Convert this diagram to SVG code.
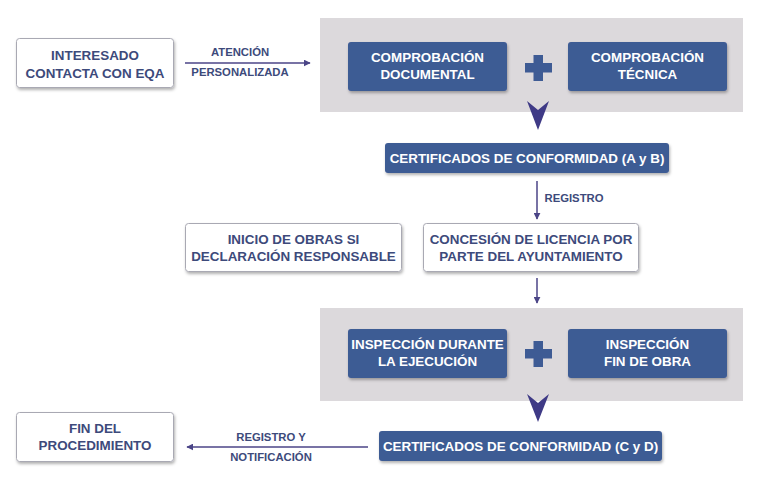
<svg xmlns="http://www.w3.org/2000/svg" width="767" height="481" viewBox="0 0 767 481">
<style>
text{font-family:"Liberation Sans",Arial,sans-serif;font-weight:bold;text-anchor:middle}
.w{fill:#ffffff;stroke:#a9a9b3;stroke-width:1}
.d{fill:#3e5b94}
.p{fill:#dcd9dc}
.tw{fill:#ffffff;font-size:13.4px}
.tb{fill:#3d4a7b;font-size:13.4px}
.lb{fill:#3d4a7b;font-size:11.3px}
.ln{stroke:#4b4587;stroke-width:1.5;fill:none}
.ch{fill:#3f3a86}
.pl{fill:#3e5b94}
</style>
<defs>
<filter id="sh" x="-10%" y="-20%" width="120%" height="150%">
<feDropShadow dx="1" dy="2" stdDeviation="1.5" flood-color="#000" flood-opacity="0.3"/>
</filter>
<marker id="ah" viewBox="0 0 10 10" refX="9" refY="5" markerWidth="7" markerHeight="7" markerUnits="userSpaceOnUse" orient="auto">
<path d="M0,0 L10,5 L0,10 z" fill="#4b4587"/>
</marker>
</defs>
<rect width="767" height="481" fill="#ffffff"/>
<g id="panel1"><rect class="p" x="320" y="18" width="423" height="94"/></g>
<g id="panel2"><rect class="p" x="320" y="308" width="423" height="93"/></g>
<g id="n_interesado"><rect class="w" x="16.5" y="38.5" width="157" height="49" rx="3" filter="url(#sh)"/><text class="tb" x="95" y="60">INTERESADO</text><text class="tb" x="95" y="78">CONTACTA CON EQA</text></g>
<g id="n_comp_doc"><rect class="d" x="348" y="42" width="159" height="49" rx="3" filter="url(#sh)"/><text class="tw" x="427.5" y="62">COMPROBACIÓN</text><text class="tw" x="427.5" y="79">DOCUMENTAL</text></g>
<g id="n_comp_tec"><rect class="d" x="568" y="42" width="159" height="49" rx="3" filter="url(#sh)"/><text class="tw" x="647.5" y="62">COMPROBACIÓN</text><text class="tw" x="647.5" y="79">TÉCNICA</text></g>
<g id="plus1"><rect class="pl" x="533.5" y="55" width="9.5" height="26"/><rect class="pl" x="525" y="63" width="27" height="9.5"/></g>
<g id="n_cert_ab"><rect class="d" x="385" y="143" width="284" height="30" rx="3" filter="url(#sh)"/><text class="tw" x="527" y="163">CERTIFICADOS DE CONFORMIDAD (A y B)</text></g>
<g id="n_inicio"><rect class="w" x="185.5" y="223.5" width="216" height="48" rx="3" filter="url(#sh)"/><text class="tb" x="293.5" y="244">INICIO DE OBRAS SI</text><text class="tb" x="293.5" y="261">DECLARACIÓN RESPONSABLE</text></g>
<g id="n_concesion"><rect class="w" x="423.5" y="223.5" width="215" height="48" rx="3" filter="url(#sh)"/><text class="tb" x="531" y="244">CONCESIÓN DE LICENCIA POR</text><text class="tb" x="531" y="261">PARTE DEL AYUNTAMIENTO</text></g>
<g id="n_insp_dur"><rect class="d" x="348" y="329" width="159" height="49" rx="3" filter="url(#sh)"/><text class="tw" x="427.5" y="349">INSPECCIÓN DURANTE</text><text class="tw" x="427.5" y="366">LA EJECUCIÓN</text></g>
<g id="n_insp_fin"><rect class="d" x="568" y="329" width="159" height="49" rx="3" filter="url(#sh)"/><text class="tw" x="647.5" y="349">INSPECCIÓN</text><text class="tw" x="647.5" y="366">FIN DE OBRA</text></g>
<g id="plus2"><rect class="pl" x="533.5" y="341" width="9.5" height="26"/><rect class="pl" x="525" y="349" width="27" height="9.5"/></g>
<g id="n_cert_cd"><rect class="d" x="379" y="431" width="283" height="30" rx="3" filter="url(#sh)"/><text class="tw" x="520.5" y="451">CERTIFICADOS DE CONFORMIDAD (C y D)</text></g>
<g id="n_fin"><rect class="w" x="16.5" y="412.5" width="157" height="49" rx="3" filter="url(#sh)"/><text class="tb" x="95" y="433">FIN DEL</text><text class="tb" x="95" y="450">PROCEDIMIENTO</text></g>
<g id="connectors">
<line class="ln" x1="185" y1="63" x2="310" y2="63" marker-end="url(#ah)"/>
<text class="lb" x="240" y="56">ATENCIÓN</text>
<text class="lb" x="240" y="76">PERSONALIZADA</text>
<path class="ch" d="M527,101 L538,110 L549,101 L538,130 z"/>
<line class="ln" x1="537" y1="181" x2="537" y2="219" marker-end="url(#ah)"/>
<text class="lb" x="574" y="202">REGISTRO</text>
<line class="ln" x1="537" y1="278" x2="537" y2="303" marker-end="url(#ah)"/>
<path class="ch" d="M527,394 L538,403 L549,394 L538,422 z"/>
<line class="ln" x1="368" y1="447" x2="187" y2="447" marker-end="url(#ah)"/>
<text class="lb" x="271" y="441">REGISTRO Y</text>
<text class="lb" x="271" y="461">NOTIFICACIÓN</text>
</g>
</svg>
